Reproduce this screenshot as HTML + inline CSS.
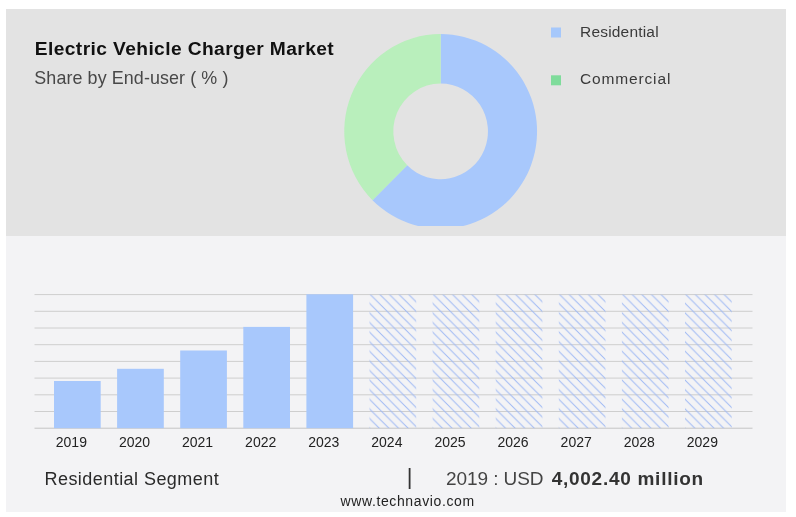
<!DOCTYPE html>
<html>
<head>
<meta charset="utf-8">
<title>Electric Vehicle Charger Market</title>
<style>
html,body{margin:0;padding:0;background:#fff;}
body{width:796px;height:517px;position:relative;overflow:hidden;font-family:"Liberation Sans",sans-serif;}
.abs{position:absolute;white-space:nowrap;line-height:1;}
#top{left:6px;top:8.5px;width:780px;height:227.5px;background:#e3e3e3;}
#bot{left:6px;top:235.8px;width:780px;height:275.9px;background:#f3f3f5;}
#title{left:34.8px;top:38.6px;font-size:19.2px;font-weight:bold;color:#111;letter-spacing:0.4px;}
#sub{left:34.3px;top:69.7px;font-size:17.9px;color:#484848;letter-spacing:0.1px;}
.leg{font-size:15.5px;color:#3a3a3a;}
.yl{font-size:14px;color:#222;}
svg{position:absolute;left:0;top:0;}
</style>
</head>
<body>
<div class="abs" id="top"></div>
<div class="abs" id="bot"></div>

<svg width="796" height="517" viewBox="0 0 796 517">
  <defs>
    <clipPath id="cp"><rect x="0" y="0" width="796" height="225.9"/></clipPath>
    <pattern id="hatch" patternUnits="userSpaceOnUse" width="9.6" height="9.6" x="0" y="0">
      <path d="M-1,-1.9 L10.6,9.7 M-1,7.7 L1.9,10.6 M8.6,-1.9 L10.6,0.1" stroke="#9fb9f4" stroke-width="1" fill="none"/>
    </pattern>
  </defs>
  <!-- donut -->
  <g clip-path="url(#cp)">
    <path d="M440.65,34.10 A96.4,97.3 0 1 1 372.48,200.20 L407.20,165.20 A47.3,47.8 0 1 0 440.65,83.60 Z" fill="#a8c8fc"/>
    <path id="green" d="M440.65,34.10 A96.4,97.3 0 0 0 372.48,200.20 L407.20,165.20 A47.3,47.8 0 0 1 440.65,83.60 Z" fill="#b9efbc"/>
  </g>
  <!-- legend squares -->
  <rect x="551" y="27.5" width="10" height="10" fill="#a6c8fb"/>
  <rect x="551" y="75.3" width="10" height="10" fill="#7fdc9b"/>

  <!-- solid bars go under? no: grid first -->
  <g stroke="#cecece" stroke-width="1">
    <line x1="34.5" x2="752.5" y1="294.6" y2="294.6"/>
    <line x1="34.5" x2="752.5" y1="311.3" y2="311.3"/>
    <line x1="34.5" x2="752.5" y1="328" y2="328"/>
    <line x1="34.5" x2="752.5" y1="344.7" y2="344.7"/>
    <line x1="34.5" x2="752.5" y1="361.4" y2="361.4"/>
    <line x1="34.5" x2="752.5" y1="378.1" y2="378.1"/>
    <line x1="34.5" x2="752.5" y1="394.8" y2="394.8"/>
    <line x1="34.5" x2="752.5" y1="411.5" y2="411.5"/>
    <line x1="34.5" x2="752.5" y1="428.2" y2="428.2" stroke="#c4c4c4"/>
  </g>
  <g fill="#a8c8fc">
    <rect x="54" y="381" width="46.7" height="47.2"/>
    <rect x="117.1" y="368.8" width="46.7" height="59.4"/>
    <rect x="180.2" y="350.5" width="46.7" height="77.7"/>
    <rect x="243.3" y="326.9" width="46.7" height="101.3"/>
    <rect x="306.4" y="294.3" width="46.7" height="133.9"/>
  </g>
  <g fill="url(#hatch)">
    <g transform="translate(369.5,294.6)"><rect x="0" y="0" width="46.7" height="133.6"/></g>
    <g transform="translate(432.6,294.6)"><rect x="0" y="0" width="46.7" height="133.6"/></g>
    <g transform="translate(495.7,294.6)"><rect x="0" y="0" width="46.7" height="133.6"/></g>
    <g transform="translate(558.8,294.6)"><rect x="0" y="0" width="46.7" height="133.6"/></g>
    <g transform="translate(621.9,294.6)"><rect x="0" y="0" width="46.7" height="133.6"/></g>
    <g transform="translate(685.0,294.6)"><rect x="0" y="0" width="46.7" height="133.6"/></g>
  </g>
</svg>

<div class="abs" id="title">Electric Vehicle Charger Market</div>
<div class="abs" id="sub">Share by End-user ( % )</div>
<div class="abs leg" id="l1" style="left:580px;top:23.6px;letter-spacing:0.19px;">Residential</div>
<div class="abs leg" id="l2" style="left:580px;top:70.9px;letter-spacing:0.85px;">Commercial</div>

<div class="abs yl" id="y0" style="left:55.8px;top:434.5px;">2019</div>
<div class="abs yl" id="y1" style="left:118.9px;top:434.5px;">2020</div>
<div class="abs yl" id="y2" style="left:182px;top:434.5px;">2021</div>
<div class="abs yl" id="y3" style="left:245.1px;top:434.5px;">2022</div>
<div class="abs yl" id="y4" style="left:308.2px;top:434.5px;">2023</div>
<div class="abs yl" id="y5" style="left:371.3px;top:434.5px;">2024</div>
<div class="abs yl" id="y6" style="left:434.4px;top:434.5px;">2025</div>
<div class="abs yl" id="y7" style="left:497.5px;top:434.5px;">2026</div>
<div class="abs yl" id="y8" style="left:560.6px;top:434.5px;">2027</div>
<div class="abs yl" id="y9" style="left:623.7px;top:434.5px;">2028</div>
<div class="abs yl" id="y10" style="left:686.8px;top:434.5px;">2029</div>

<div class="abs" id="seg" style="left:44.5px;top:470.1px;font-size:18px;color:#2a2a2a;letter-spacing:0.45px;">Residential Segment</div>
<div class="abs" id="bar" style="left:406.8px;top:465.8px;font-size:22px;color:#333;">|</div>
<div class="abs" id="val" style="left:446px;top:469.2px;font-size:19px;color:#444;letter-spacing:-0.08px;">2019 : USD</div>
<div class="abs" id="valb" style="left:551.7px;top:469.2px;font-size:19px;color:#333;font-weight:bold;letter-spacing:0.73px;">4,002.40 million</div>
<div class="abs" id="www" style="left:340.5px;top:494.1px;font-size:14px;color:#222;letter-spacing:0.62px;">www.technavio.com</div>
</body>
</html>
